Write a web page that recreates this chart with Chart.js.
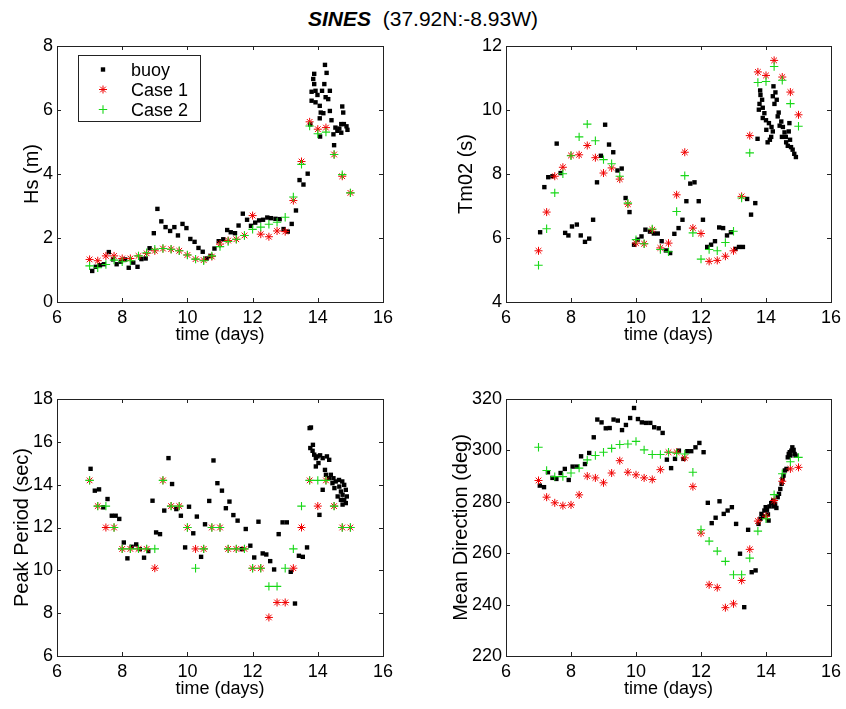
<!DOCTYPE html>
<html>
<head>
<meta charset="utf-8">
<title>SINES</title>
<script src="https://cdn.jsdelivr.net/npm/chart.js@4"></script>
<style>
  body { margin: 0; background: #fff; }
  #page { position: relative; width: 846px; height: 709px; overflow: hidden; background: #fff; }
  #title { position: absolute; left: 0; top: 8px; width: 846px; text-align: center;
           font-family: 'Liberation Sans', Arial, sans-serif; font-size: 21px; line-height: 1; white-space: pre; }
  canvas { position: absolute; }
</style>
</head>
<body>
<div id="page">
  <div id="title"><b><i>SINES</i></b>  (37.92N:-8.93W)</div>
  <canvas id="hs"   width="423" height="330" style="left:0;top:26px"></canvas>
  <canvas id="tm"   width="423" height="330" style="left:423px;top:26px"></canvas>
  <canvas id="peak" width="423" height="329" style="left:0;top:380px"></canvas>
  <canvas id="dir"  width="423" height="329" style="left:423px;top:380px"></canvas>
</div>
<script>
// model output every 6 h
const modelTimes = [7, 7.25, 7.5, 7.75, 8, 8.25, 8.5, 8.75, 9, 9.25, 9.5, 9.75, 10, 10.25, 10.5, 10.75,
  11, 11.25, 11.5, 11.75, 12, 12.25, 12.5, 12.75, 13, 13.25, 13.5, 13.75, 14, 14.25, 14.5, 14.75, 15];

// Hs (m)
const hsBuoyT = [7.08, 7.19, 7.32, 7.44, 7.59, 7.72, 7.83, 7.96, 8.09, 8.20, 8.34, 8.47, 8.59, 8.72, 8.84,
  8.97, 9.08, 9.20, 9.33, 9.47, 9.60, 9.71, 9.85, 9.97, 10.09, 10.22, 10.34, 10.47, 10.59, 10.71, 10.83,
  10.96, 11.10, 11.22, 11.33, 11.46, 11.57, 11.70, 11.83, 11.95, 12.08, 12.20, 12.32, 12.45, 12.56, 12.70,
  12.83, 12.95, 13.08, 13.20, 13.33, 13.44, 13.56, 13.69,
  13.77, 13.81, 13.81, 13.86, 13.89, 13.89, 13.93, 13.93, 13.99, 14.06, 14.06, 14.07, 14.09, 14.13, 14.17,
  14.20, 14.22, 14.24, 14.27, 14.32, 14.37, 14.37, 14.42, 14.48, 14.50, 14.54, 14.60, 14.66, 14.72, 14.72,
  14.75, 14.78, 14.80, 14.88, 14.91];
const hsBuoy = [0.97, 1.10, 1.15, 1.18, 1.56, 1.33, 1.18, 1.26, 1.33, 1.07, 1.23, 1.10, 1.34, 1.36, 1.68,
  2.15, 2.91, 2.52, 2.34, 2.22, 2.34, 2.08, 2.44, 2.31, 1.97, 1.88, 1.69, 1.57, 1.36, 1.44, 1.67,
  1.90, 1.96, 2.25, 2.18, 2.15, 2.39, 2.76, 2.57, 2.38, 2.48, 2.55, 2.57, 2.64, 2.62, 2.60,
  2.59, 2.28, 2.20, 2.44, 2.86, 3.81, 3.67, 4.01,
  5.55, 6.57, 6.29, 6.97, 7.13, 6.81, 6.60, 6.24, 6.47, 6.13, 5.74, 5.17, 5.92, 6.60, 5.90,
  6.81, 7.41, 6.40, 7.16, 6.34, 6.60, 5.97, 5.68, 5.24, 4.90, 5.45, 5.35, 5.42, 5.56, 5.29,
  6.11, 5.92, 5.56, 5.49, 5.38];
const hsCase1 = [1.33, 1.29, 1.44, 1.44, 1.36, 1.36, 1.44, 1.52, 1.60, 1.67, 1.65, 1.60, 1.47, 1.34, 1.31, 1.42,
  1.81, 1.92, 1.96, 2.08, 2.70, 2.12, 2.04, 2.22, 2.20, 3.17, 4.39, 5.63, 5.40, 5.45, 4.61, 3.93, 3.41];
const hsCase2 = [1.13, 1.07, 1.17, 1.31, 1.26, 1.29, 1.44, 1.54, 1.65, 1.67, 1.65, 1.60, 1.47, 1.34, 1.29, 1.44,
  1.73, 1.89, 1.96, 2.08, 2.27, 2.34, 2.43, 2.49, 2.65, 3.28, 4.30, 5.50, 5.26, 5.31, 4.61, 3.98, 3.41];

// Tm02 (s)
const tmBuoyT = [7.05, 7.18, 7.30, 7.43, 7.56, 7.68, 7.82, 7.92, 8.03, 8.18, 8.30, 8.43, 8.56, 8.68, 8.80,
  8.92, 9.05, 9.17, 9.30, 9.43, 9.56, 9.68, 9.80, 9.94, 10.05, 10.17, 10.29, 10.43, 10.55, 10.67, 10.79,
  10.92, 11.05, 11.18, 11.31, 11.43, 11.55, 11.67, 11.80, 11.93, 12.06, 12.19, 12.31, 12.43, 12.56, 12.68,
  12.80, 12.92, 13.06, 13.17, 13.29, 13.42, 13.54, 13.67, 13.74,
  13.78, 13.80, 13.82, 13.83, 13.88, 13.90, 13.90, 13.95, 14.00, 14.01, 14.05, 14.09, 14.12, 14.16, 14.17,
  14.21, 14.21, 14.23, 14.26, 14.29, 14.33, 14.36, 14.39, 14.42, 14.47, 14.49, 14.52, 14.57, 14.61, 14.62,
  14.67, 14.70, 14.72, 14.74, 14.77, 14.82, 14.87, 14.92];
const tmBuoy = [6.18, 7.59, 7.90, 7.93, 8.95, 8.03, 6.16, 6.08, 6.36, 6.42, 6.08, 5.88, 5.98, 6.57, 7.74,
  8.57, 9.54, 8.92, 8.68, 8.11, 8.17, 7.25, 6.81, 5.79, 5.95, 6.05, 6.26, 6.20, 6.14, 6.14, 5.90,
  5.61, 5.53, 6.13, 6.31, 6.57, 7.15, 7.70, 7.74, 7.15, 6.57, 5.72, 5.79, 5.90, 6.33, 6.31,
  6.08, 6.18, 5.66, 5.72, 5.72, 7.22, 6.73, 7.09, 9.10,
  10.01, 10.19, 10.61, 10.47, 10.32, 10.07, 9.75, 9.90, 9.68, 9.38, 8.99, 9.59, 9.07, 9.16, 9.47,
  9.33, 10.43, 10.74, 10.19, 10.55, 10.32, 9.80, 9.92, 9.51, 9.64, 9.16, 9.47, 9.30, 9.16, 8.99,
  8.88, 9.33, 9.59, 9.07, 8.84, 8.76, 8.63, 8.53];
const tmCase1 = [5.60, 6.81, 7.93, 8.21, 8.58, 8.60, 8.89, 8.51, 8.03, 8.19, 7.84, 7.06, 5.84, 5.82, 6.26, 5.69,
  5.84, 7.35, 8.68, 6.31, 6.14, 5.27, 5.30, 5.43, 5.60, 7.30, 9.20, 11.19, 11.08, 11.55, 11.03, 10.56, 9.85];
const tmCase2 = [5.15, 6.29, 7.41, 8.01, 8.57, 9.16, 9.56, 9.04, 8.45, 8.32, 7.93, 7.09, 5.95, 5.82, 6.28, 5.64,
  5.57, 6.83, 7.95, 6.16, 5.34, 5.64, 5.60, 5.86, 6.21, 7.25, 8.66, 10.86, 10.89, 11.36, 10.93, 10.20, 9.49];

// Peak period (sec)
const ppBuoyT = [7.03, 7.16, 7.29, 7.42, 7.55, 7.68, 7.80, 7.91, 8.05, 8.16, 8.29, 8.43, 8.54, 8.67, 8.80,
  8.93, 9.04, 9.16, 9.29, 9.42, 9.53, 9.66, 9.80, 9.93, 10.05, 10.18, 10.29, 10.42, 10.54, 10.67, 10.80,
  10.92, 11.06, 11.18, 11.29, 11.41, 11.54, 11.67, 11.79, 11.93, 12.05, 12.18, 12.31, 12.42, 12.54, 12.66,
  12.80, 12.92, 13.05, 13.17, 13.30, 13.42, 13.54, 13.67,
  13.75, 13.77, 13.79, 13.84, 13.85, 13.89, 13.94, 13.94, 13.99, 14.02, 14.05, 14.07, 14.15, 14.15, 14.22,
  14.25, 14.28, 14.35, 14.35, 14.40, 14.45, 14.48, 14.51, 14.55, 14.61, 14.65, 14.66, 14.71, 14.71, 14.75,
  14.76, 14.76, 14.81, 14.81, 14.86, 14.86, 14.89];
const ppBuoy = [14.74, 13.72, 13.78, 12.94, 13.33, 12.55, 12.55, 12.40, 11.30, 10.56, 11.10, 11.21, 10.99, 10.59, 10.90,
  13.25, 11.77, 11.69, 12.79, 15.24, 14.03, 12.86, 12.55, 11.07, 12.97, 11.73, 12.51, 10.63, 12.15, 13.24, 15.13,
  14.07, 13.72, 12.90, 13.21, 12.58, 12.32, 10.99, 11.93, 11.15, 10.60, 12.27, 10.79, 10.74, 10.43, 10.04,
  11.69, 12.24, 12.24, 9.93, 8.45, 10.68, 10.63, 11.07,
  16.64, 15.71, 16.67, 15.58, 15.86, 15.40, 15.24, 14.85, 15.32, 15.01, 12.59, 15.37, 15.24, 13.76, 14.69,
  14.46, 15.32, 15.16, 14.30, 14.46, 14.07, 14.30, 13.84, 14.15, 13.45, 14.22, 13.91, 13.68, 13.29, 14.15,
  13.53, 13.07, 13.99, 13.29, 13.76, 13.14, 13.45];
const ppCase1 = [14.2, 13.0, 12.0, 12.0, 11.0, 11.0, 11.0, 11.0, 10.1, 14.2, 13.0, 13.0, 12.0, 11.0, 11.0, 12.0,
  12.0, 11.0, 11.0, 11.0, 10.1, 10.1, 7.8, 8.5, 8.5, 10.1, 12.0, 14.2, 13.0, 14.2, 13.0, 12.0, 12.0];
const ppCase2 = [14.2, 13.0, 13.0, 12.0, 11.0, 11.0, 11.0, 11.0, 11.0, 14.2, 13.0, 13.0, 12.0, 10.1, 11.0, 12.0,
  12.0, 11.0, 11.0, 11.0, 10.1, 10.1, 9.25, 9.25, 10.1, 11.0, 13.0, 14.2, 14.2, 14.2, 13.0, 12.0, 12.0];

// Mean direction (deg)
const mdBuoyT = [7.04, 7.17, 7.29, 7.43, 7.55, 7.68, 7.81, 7.93, 8.05, 8.18, 8.31, 8.43, 8.56, 8.70, 8.81,
  8.94, 9.07, 9.19, 9.31, 9.44, 9.57, 9.69, 9.82, 9.94, 10.06, 10.18, 10.31, 10.44, 10.56, 10.70, 10.82,
  10.95, 11.08, 11.20, 11.32, 11.46, 11.58, 11.70, 11.83, 11.95, 12.08, 12.21, 12.33, 12.45, 12.57, 12.70,
  12.82, 12.95, 13.08, 13.20, 13.33, 13.45, 13.56, 13.68,
  13.77, 13.83, 13.86, 13.91, 13.95, 13.99, 14.03, 14.06, 14.08, 14.11, 14.16, 14.22, 14.24, 14.28, 14.32,
  14.36, 14.40, 14.44, 14.48, 14.51, 14.54, 14.58, 14.63, 14.67, 14.70, 14.73, 14.75, 14.78, 14.81, 14.85,
  14.88, 14.91];
const mdBuoy = [286.3, 285.7, 291.5, 289.3, 288.9, 291.2, 292.8, 288.5, 293.7, 293.7, 297.7, 294.7, 299.0, 305.1, 312.0,
  310.9, 308.6, 308.7, 312.0, 311.6, 307.9, 309.9, 312.6, 316.5, 312.2, 310.9, 310.7, 310.7, 309.0, 308.6, 306.8,
  296.4, 293.1, 296.7, 299.9, 296.7, 299.7, 299.7, 301.2, 302.9, 299.3, 279.6, 271.7, 273.8, 280.2, 275.3,
  276.6, 277.9, 271.4, 259.8, 239.0, 269.1, 252.6, 253.3,
  271.4, 273.4, 275.3, 274.3, 276.6, 277.9, 276.9, 275.1, 272.7, 278.2, 279.5, 280.5, 278.2, 279.2, 277.6,
  281.8, 283.1, 285.0, 287.0, 288.9, 290.2, 292.2, 292.8, 297.3, 298.6, 299.3, 298.0, 299.9, 301.2, 300.2,
  298.6, 298.0];
const mdCase1 = [288.3, 281.8, 279.6, 278.5, 278.8, 282.7, 290.0, 289.3, 287.4, 291.2, 296.0, 291.5, 290.5, 289.3, 288.7, 292.5,
  299.3, 299.3, 297.1, 285.9, 267.8, 247.7, 246.6, 238.8, 240.3, 249.4, 261.5, 272.5, 274.4, 280.5, 288.0, 292.8, 293.4];
const mdCase2 = [301.2, 292.2, 289.8, 289.8, 291.2, 293.1, 296.3, 298.0, 299.3, 300.8, 302.3, 302.5, 303.5, 300.2, 298.4, 298.4,
  299.3, 298.9, 298.6, 291.5, 269.1, 264.7, 260.8, 256.8, 251.6, 251.6, 258.1, 268.6, 273.4, 282.8, 290.9, 295.6, 297.3];

const xTicks = [6, 8, 10, 12, 14, 16];

Chart.defaults.font.family = "'Liberation Sans', Arial, Helvetica, sans-serif";
Chart.defaults.color = '#000';

const AXIS = '#222';

function points(xs, ys) {
  return xs.map((x, i) => ({ x: x, y: ys[i] }));
}

// matlab style box with inward ticks on all four sides
const boxTicks = {
  id: 'boxTicks',
  afterDatasetsDraw(chart) {
    const ctx = chart.ctx, a = chart.chartArea;
    const sx = chart.scales.x, sy = chart.scales.y;
    const len = 4;
    ctx.save();
    ctx.strokeStyle = AXIS;
    ctx.lineWidth = 1;
    ctx.strokeRect(a.left + 0.5, a.top + 0.5, a.right - a.left, a.bottom - a.top);
    ctx.beginPath();
    sx.ticks.forEach(t => {
      const px = Math.round(sx.getPixelForValue(t.value)) + 0.5;
      ctx.moveTo(px, a.bottom); ctx.lineTo(px, a.bottom - len);
      ctx.moveTo(px, a.top); ctx.lineTo(px, a.top + len);
    });
    sy.ticks.forEach(t => {
      const py = Math.round(sy.getPixelForValue(t.value)) + 0.5;
      ctx.moveTo(a.left, py); ctx.lineTo(a.left + len, py);
      ctx.moveTo(a.right, py); ctx.lineTo(a.right - len, py);
    });
    ctx.stroke();
    ctx.restore();
  }
};

// boxed legend inside the first axes
const boxLegend = {
  id: 'boxLegend',
  afterDraw(chart, args, opts) {
    if (!opts.show) return;
    const ctx = chart.ctx;
    const b = opts.box;
    ctx.save();
    ctx.fillStyle = '#fff';
    ctx.fillRect(b.x, b.y, b.w, b.h);
    ctx.strokeStyle = AXIS;
    ctx.lineWidth = 1;
    ctx.strokeRect(b.x + 0.5, b.y + 0.5, b.w, b.h);
    ctx.font = "18px 'Liberation Sans', Arial, sans-serif";
    ctx.textBaseline = 'alphabetic';
    ctx.textAlign = 'left';
    chart.data.datasets.forEach((ds, i) => {
      const cy = b.y + opts.firstRow + i * opts.rowGap;
      ctx.fillStyle = ds.backgroundColor;
      ctx.strokeStyle = ds.borderColor;
      ctx.lineWidth = ds.borderWidth;
      Chart.helpers.drawPoint(ctx, {
        pointStyle: ds.pointStyle, radius: ds.pointRadius, rotation: 0, borderWidth: ds.borderWidth
      }, opts.markerX, cy);
      ctx.fillStyle = '#000';
      ctx.fillText(ds.label, opts.textX, cy + 6);
    });
    ctx.restore();
  }
};

function panel(id, p) {
  return new Chart(document.getElementById(id), {
    type: 'scatter',
    data: {
      datasets: [
        { label: 'buoy', data: points(p.buoyT, p.buoy), pointStyle: 'rect', pointRadius: 3.1,
          borderWidth: 0, backgroundColor: '#000', borderColor: '#000', order: 2 },
        { label: 'Case 1', data: points(modelTimes, p.case1), pointStyle: 'star', pointRadius: 4,
          borderWidth: 1, backgroundColor: '#f00000', borderColor: '#f00000', order: 1 },
        { label: 'Case 2', data: points(modelTimes, p.case2), pointStyle: 'cross', pointRadius: 4.2,
          borderWidth: 1.1, backgroundColor: '#18d818', borderColor: '#18d818', order: 0 }
      ]
    },
    options: {
      responsive: false,
      animation: false,
      devicePixelRatio: 1,
      events: [],
      layout: { padding: { left: 0, top: p.padTop, right: p.padRight, bottom: 0 } },
      plugins: {
        legend: { display: false },
        tooltip: { enabled: false },
        boxLegend: p.legend || { show: false }
      },
      scales: {
        x: {
          type: 'linear', min: 6, max: 16,
          afterBuildTicks: s => { s.ticks = xTicks.map(v => ({ value: v })); },
          ticks: { padding: 5, font: { size: 18 } },
          grid: { display: false, drawTicks: false },
          border: { display: false },
          title: { display: true, text: 'time (days)', font: { size: 18 }, padding: { top: 0, bottom: p.xTitlePad } },
          afterFit: s => { s.height = p.xAxisH; s.paddingLeft = 0; s.paddingRight = 0; }
        },
        y: {
          type: 'linear', min: p.yTicks[0], max: p.yTicks[p.yTicks.length - 1],
          afterBuildTicks: s => { s.ticks = p.yTicks.map(v => ({ value: v })); },
          ticks: { padding: 4, font: { size: 18 } },
          grid: { display: false, drawTicks: false },
          border: { display: false },
          title: { display: true, text: p.yTitle, font: { size: 20 }, padding: { top: p.yTitlePad, bottom: 0 } },
          afterFit: s => { s.width = p.yAxisW; s.paddingTop = 0; s.paddingBottom = 0; }
        }
      }
    },
    plugins: [boxTicks, boxLegend]
  });
}

panel('hs', {
  buoyT: hsBuoyT, buoy: hsBuoy, case1: hsCase1, case2: hsCase2,
  yTicks: [0, 2, 4, 6, 8], yTitle: 'Hs (m)',
  padTop: 20, padRight: 40, yAxisW: 57, xAxisH: 54, xTitlePad: 10.5, yTitlePad: 20,
  legend: { show: true, box: { x: 78, y: 29, w: 122, h: 66 }, firstRow: 14.5, rowGap: 20, markerX: 103, textX: 131 }
});
panel('tm', {
  buoyT: tmBuoyT, buoy: tmBuoy, case1: tmCase1, case2: tmCase2,
  yTicks: [4, 6, 8, 10, 12], yTitle: 'Tm02 (s)',
  padTop: 20, padRight: 15, yAxisW: 83, xAxisH: 54, xTitlePad: 10.5, yTitlePad: 31
});
panel('peak', {
  buoyT: ppBuoyT, buoy: ppBuoy, case1: ppCase1, case2: ppCase2,
  yTicks: [6, 8, 10, 12, 14, 16, 18], yTitle: 'Peak Period (sec)',
  padTop: 19, padRight: 40, yAxisW: 57, xAxisH: 53, xTitlePad: 9, yTitlePad: 10
});
panel('dir', {
  buoyT: mdBuoyT, buoy: mdBuoy, case1: mdCase1, case2: mdCase2,
  yTicks: [220, 240, 260, 280, 300, 320], yTitle: 'Mean Direction (deg)',
  padTop: 19, padRight: 15, yAxisW: 83, xAxisH: 53, xTitlePad: 9, yTitlePad: 26
});
</script>
</body>
</html>
